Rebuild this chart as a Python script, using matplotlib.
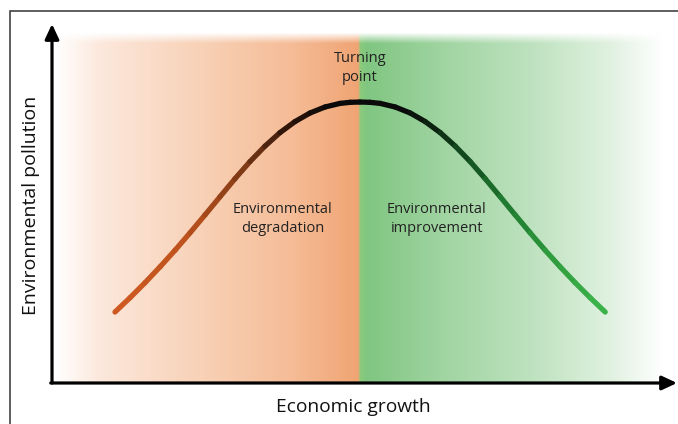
import numpy as np
import matplotlib
matplotlib.use("Agg")
import matplotlib.pyplot as plt
from matplotlib.collections import LineCollection
from matplotlib.colors import LinearSegmentedColormap, to_rgb
from matplotlib.patches import Rectangle

# ---- data (economic growth vs. environmental pollution) ----
growth = [1.05, 1.30, 1.55, 1.80, 2.05, 2.30, 2.55, 2.80, 3.05, 3.30, 3.55, 3.80,
          4.05, 4.30, 4.55, 4.80, 4.97, 5.13, 5.30, 5.47, 5.72, 5.97, 6.22, 6.47,
          6.72, 6.97, 7.22, 7.47, 7.72, 7.97, 8.22, 8.47, 8.72, 8.97, 9.22]
pollution = [1.183, 1.421, 1.671, 1.935, 2.212, 2.502, 2.801, 3.104, 3.405, 3.690,
             3.948, 4.173, 4.357, 4.500, 4.600, 4.660, 4.678, 4.683, 4.678, 4.660,
             4.600, 4.500, 4.357, 4.173, 3.948, 3.690, 3.405, 3.104, 2.801, 2.502,
             2.212, 1.935, 1.671, 1.421, 1.183]
turning_growth = 5.13
x_label = "Economic growth"
y_label = "Environmental pollution"
region_labels = ["Environmental\ndegradation", "Environmental\nimprovement"]
turning_label = "Turning\npoint"

plt.rcParams['font.family'] = ['Open Sans', 'DejaVu Sans']

W, H = 678, 424
fig = plt.figure(figsize=(W / 100, H / 100), dpi=100)

# outer frame
fig.patches.append(Rectangle((10 / W, -0.1), 1.2, (424 - 11) / H + 0.1,
                             transform=fig.transFigure, fill=False,
                             edgecolor='#333333', linewidth=1.1))

x0, y0, x1, y1 = 52, 383, 677, 24
ax = fig.add_axes([x0 / W, (H - y0) / H, (x1 - x0) / W, (y0 - y1) / H])
XMAX = (x1 - x0) / 60
YMAX = (y0 - y1) / 60
ax.set_xlim(0, XMAX)
ax.set_ylim(0, YMAX)
ax.axis('off')

# ---- background gradient ----
bg_left, bg_right, bg_top = 0.05, 10.18, 5.85
stops = [(0.05, '#FFFFFF'), (0.8, '#FCE8DC'), (2.5, '#F8D1B6'), (4.0, '#F5BC97'),
         (5.10, '#F0A473'), (5.14, '#8ACB7C'), (5.25, '#80C681'), (6.5, '#A0D4A1'),
         (8.0, '#BEE2BF'), (9.3, '#E0F1E0'), (10.18, '#FFFFFF')]
nx, ny = 1200, 300
xs = np.linspace(bg_left, bg_right, nx)
pos = [s[0] for s in stops]
cols = np.array([to_rgb(s[1]) for s in stops])
rgb = np.stack([np.interp(xs, pos, cols[:, k]) for k in range(3)], axis=-1)
ys = np.linspace(bg_top, 0, ny)
alpha = np.clip((bg_top - ys) / 0.18, 0, 1)
img = np.ones((ny, nx, 4))
img[:, :, :3] = rgb[None, :, :]
img[:, :, 3] = alpha[:, None]
ax.imshow(img, extent=[bg_left, bg_right, 0, bg_top], aspect='auto', zorder=0,
          interpolation='bilinear')

# ---- curve with colour gradient ----
cmap = LinearSegmentedColormap.from_list('ekc', [
    (0.0, '#CF5A21'), (0.15, '#BD521D'), (0.27, '#7A3815'), (0.36, '#2A1308'),
    (0.44, '#0A0A0A'), (0.60, '#0A0A0A'), (0.69, '#0F3A18'), (0.80, '#1E7A30'),
    (0.90, '#2F9D3E'), (1.0, '#3DB44B')])
gx = np.array(growth)
gy = np.array(pollution)
pts = np.column_stack([gx, gy]).reshape(-1, 1, 2)
segs = np.concatenate([pts[:-1], pts[1:]], axis=1)
mid = (gx[:-1] + gx[1:]) / 2
frac = (mid - gx.min()) / (gx.max() - gx.min())
lc = LineCollection(segs, colors=cmap(frac), linewidths=3.8, capstyle='round',
                    joinstyle='round', zorder=3)
ax.add_collection(lc)

# ---- axes arrows ----
arrow_kw = dict(arrowstyle='-|>,head_length=0.9,head_width=0.42', color='black',
                lw=2.3, shrinkA=0, shrinkB=0)
ax.annotate('', xy=(0, 1.0), xytext=(0, 0), xycoords='axes fraction',
            arrowprops=arrow_kw, annotation_clip=False, zorder=5)
ax.annotate('', xy=(1.0, 0), xytext=(-0.002, 0), xycoords='axes fraction',
            arrowprops=arrow_kw, annotation_clip=False, zorder=5)

# ---- texts ----
ax.text(turning_growth, (383 - 68) / 60, turning_label, ha='center', va='center',
        fontsize=10.5, color='#222222', linespacing=1.4, zorder=6)
ax.text((283 - 52) / 60, (383 - 219) / 60, region_labels[0], ha='center',
        va='center', fontsize=10.5, color='#222222', linespacing=1.35, zorder=6)
ax.text((437 - 52) / 60, (383 - 219) / 60, region_labels[1], ha='center',
        va='center', fontsize=10.5, color='#222222', linespacing=1.35, zorder=6)

fig.text(353 / W, 1 - 407 / H, x_label, ha='center', va='center', fontsize=13.8,
         color='#111111')
fig.text(31 / W, 1 - 205 / H, y_label, ha='center', va='center', fontsize=14,
         color='#111111', rotation=90)

fig.savefig('out.png', dpi=100)
